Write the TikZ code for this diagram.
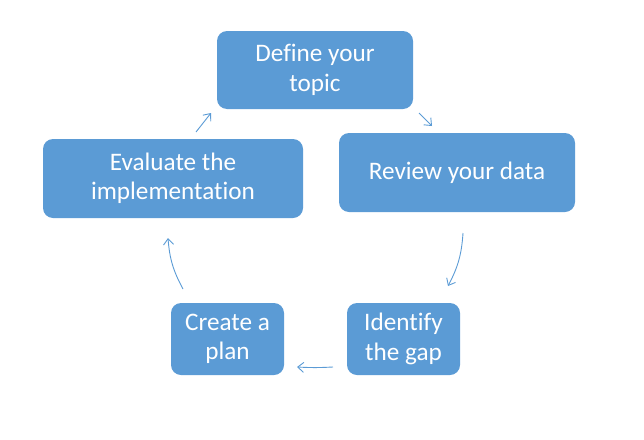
\documentclass[tikz,border=0pt]{standalone}
\usepackage{fontspec}
\setmainfont{Carlito}[Ligatures=NoCommon]
\usetikzlibrary{arrows.meta}
\definecolor{boxblue}{HTML}{5B9BD5}
\definecolor{arrblue}{HTML}{5B9BD5}
\tikzset{
  stepbox/.style={rectangle, rounded corners=10pt, fill=boxblue, draw=none,
    text=white, inner sep=0pt, align=center,
    font=\fontsize{25.2}{29.5}\selectfont},
  cyclearrow/.style={draw=arrblue, line width=0.9pt,
    -{Straight Barb[length=6pt,width=10pt,line width=0.9pt]}}
}
\begin{document}
\begin{tikzpicture}[x=1pt,y=-1pt]
\useasboundingbox (0,0) rectangle (644,439);
\node[stepbox, minimum width=196pt, minimum height=78pt] (define) at (315,70) {Define your\\topic};
\node[stepbox, minimum width=236pt, minimum height=79pt] (review) at (457,172.5) {Review your data};
\node[stepbox, minimum width=260pt, minimum height=79pt] (evaluate) at (173,178.5) {Evaluate the\\implementation};
\node[stepbox, minimum width=113pt, minimum height=72pt] (identify) at (403.5,339) {Identify\\the gap};
\node[stepbox, minimum width=113pt, minimum height=72pt] (create) at (227.5,339) {Create a\\plan};
\coordinate (a1s) at (196,132);
\coordinate (a1e) at (211,113);
\coordinate (a2s) at (419,113);
\coordinate (a2e) at (432,126);
\coordinate (a3s) at (463,233);
\coordinate (a3e) at (448,286);
\coordinate (a4s) at (333,367);
\coordinate (a4e) at (297,367);
\coordinate (a5s) at (183,289);
\coordinate (a5e) at (168,238);
\draw[cyclearrow] (a1s) -- (a1e);
\draw[cyclearrow] (a2s) -- (a2e);
\draw[cyclearrow] (a3s) to[bend left=12] (a3e);
\draw[cyclearrow] (a4s) to[bend left=3] (a4e);
\draw[cyclearrow] (a5s) to[bend left=12] (a5e);
\end{tikzpicture}
\end{document}
